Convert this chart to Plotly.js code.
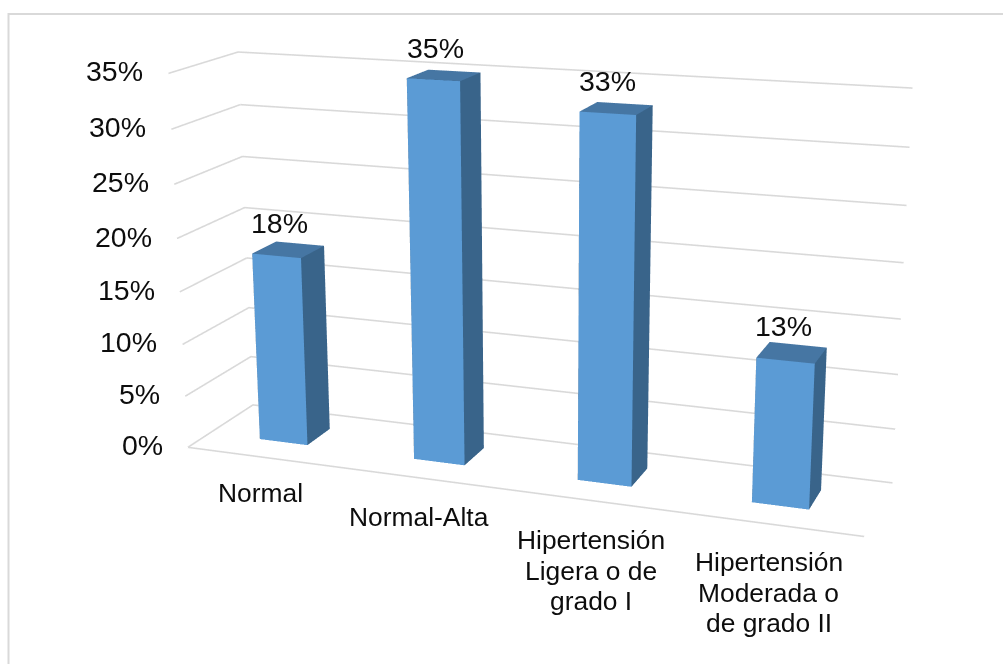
<!DOCTYPE html>
<html>
<head>
<meta charset="utf-8">
<script src="https://cdn.plot.ly/plotly-3.0.1.min.js"></script>
<style>
html,body{margin:0;padding:0;background:#fff;overflow:hidden}
#frame{position:absolute;left:0;top:0;width:1003px;height:664px;overflow:hidden}
#chart{position:absolute}
</style>
</head>
<body>
<div id="frame"><div id="chart"></div></div>
<script>
const categoryLines = [['Normal'], ['Normal-Alta'], ['Hipertensión', 'Ligera o de', 'grado I'], ['Hipertensión', 'Moderada o', 'de grado II']];
const values = [18, 35, 33, 13];
const tickValues = [0, 5, 10, 15, 20, 25, 30, 35];
const tickLabels = ['0%', '5%', '10%', '15%', '20%', '25%', '30%', '35%'];

// Category label nudges in pixels, one per category.
const labelShiftX = [-3, -3, 1, -1];
const labelShiftY = [-36, -39, -40, -38];

// The fixed 45-degree field of view is narrowed by giving the scene a taller
// canvas and showing only the window around the optical centre.
const canvasW = 1100, canvasH = 1656, canvasLeft = -60, canvasTop = -522;
const chartEl = document.getElementById('chart');
chartEl.style.left = canvasLeft + 'px';
chartEl.style.top = canvasTop + 'px';
chartEl.style.width = canvasW + 'px';
chartEl.style.height = canvasH + 'px';
const paperX = px => (px - canvasLeft) / canvasW;
const paperY = px => 1 - (px - canvasTop) / canvasH;

const barHalfWidth = 0.1575, barCentreOffset = 0.4925, barHalfDepth = 0.185, barDepthCentre = 0.515;
const frontColor = '#5B9BD5', sideColor = '#39648A', topColor = '#4676A3';
const gridColor = '#D9D9D9', textColor = '#0D0D0D';

// One box per category, with a flat colour on each face.
const x = [], y = [], z = [], i = [], j = [], k = [], facecolor = [];
values.forEach((v, n) => {
  const b = x.length, cx = n + barCentreOffset;
  [[-1,-1,0],[1,-1,0],[1,1,0],[-1,1,0],[-1,-1,1],[1,-1,1],[1,1,1],[-1,1,1]].forEach(c => {
    x.push(cx + c[0] * barHalfWidth); y.push(barDepthCentre + c[1] * barHalfDepth); z.push(c[2] * v);
  });
  [[0,1,5,frontColor],[0,5,4,frontColor],[1,2,6,sideColor],[1,6,5,sideColor],
   [4,5,6,topColor],[4,6,7,topColor],[0,3,7,sideColor],[0,7,4,sideColor],
   [3,2,6,sideColor],[3,6,7,sideColor]].forEach(t => {
    i.push(b + t[0]); j.push(b + t[1]); k.push(b + t[2]); facecolor.push(t[3]);
  });
});

const bars = {
  type: 'mesh3d', x, y, z, i, j, k, facecolor, flatshading: true,
  lighting: {ambient: 1, diffuse: 0, specular: 0, fresnel: 0, roughness: 1},
  hoverinfo: 'skip', showscale: false
};

// Gridlines run along the left and back walls; the floor also gets its front edge.
const gridX = [0, 4], gridY = [0, 1];
const grid = {
  type: 'scatter3d', mode: 'lines',
  x: tickValues.flatMap(() => [gridX[0], gridX[0], gridX[1], null]).concat([gridX[0], gridX[1]]),
  y: tickValues.flatMap(() => [gridY[0], gridY[1], gridY[1], null]).concat([gridY[0], gridY[0]]),
  z: tickValues.flatMap(v => [v, v, v, null]).concat([tickValues[0], tickValues[0]]),
  connectgaps: false,
  line: {color: gridColor, width: 3.2}, hoverinfo: 'skip', showlegend: false
};

const hiddenAxis = {
  showgrid: false, zeroline: false, showline: false, showticklabels: false,
  ticks: '', title: {text: ''}, showbackground: false, showspikes: false
};

const tickAnnotations = tickValues.map((v, n) => ({
  x: 0, y: 0, z: v, text: tickLabels[n], showarrow: false,
  xanchor: 'right', yanchor: 'middle', xshift: -23, yshift: 2,
  font: {size: 28.5, color: textColor}
}));
const valueAnnotations = values.map((v, n) => ({
  x: n + 0.5, y: barDepthCentre, z: v, text: v + '%', showarrow: false,
  xanchor: 'center', yanchor: 'middle', xshift: -10, yshift: 27,
  font: {size: 28.5, color: textColor}
}));
const categoryAnnotations = categoryLines.flatMap((lines, n) => lines.map((line, m) => ({
  x: n + 0.5, y: 0, z: 0, text: line, showarrow: false,
  xanchor: 'center', yanchor: 'middle', xshift: labelShiftX[n], yshift: labelShiftY[n] - 30.5 * m,
  font: {size: 26.4, color: textColor}
})));

const layout = {
  width: canvasW, height: canvasH, margin: {l: 0, r: 0, t: 0, b: 0},
  paper_bgcolor: '#fff', showlegend: false,
  font: {family: 'Liberation Sans, Arial, sans-serif', size: 26, color: textColor},
  shapes: [{
    type: 'rect', xref: 'paper', yref: 'paper', layer: 'below',
    x0: paperX(8.5), x1: paperX(1012), y0: paperY(14), y1: paperY(680),
    line: {color: gridColor, width: 2}, fillcolor: 'rgba(0,0,0,0)'
  }],
  scene: {
    domain: {x: [0, 1], y: [0, 1]},
    aspectmode: 'manual', aspectratio: {x: 2, y: 0.4133, z: 1.111},
    camera: {
      eye: {x: 1.842, y: -5.071, z: 1.457},
      center: {x: -0.098, y: -0.057, z: -0.076},
      up: {x: -0.0916, y: 0.2585, z: 0.9617}
    },
    xaxis: Object.assign({}, hiddenAxis, {range: [0, 4]}),
    yaxis: Object.assign({}, hiddenAxis, {range: [0, 1]}),
    zaxis: Object.assign({}, hiddenAxis, {range: [0, 35]}),
    annotations: tickAnnotations.concat(valueAnnotations, categoryAnnotations)
  }
};

Plotly.newPlot(chartEl, [bars, grid], layout, {displayModeBar: false});
</script>
</body>
</html>
